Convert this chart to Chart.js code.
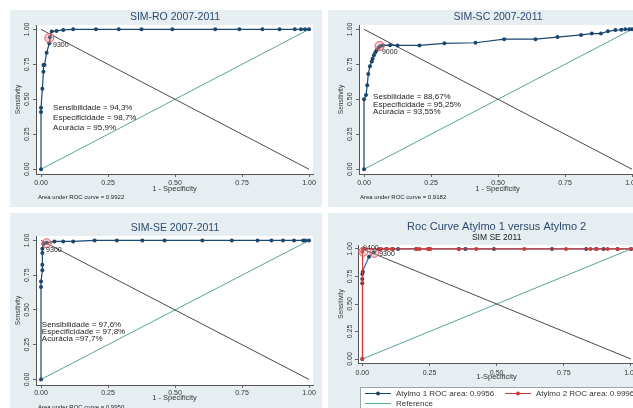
<!DOCTYPE html>
<html><head><meta charset="utf-8">
<script src="https://cdn.jsdelivr.net/npm/chart.js@4.4.0/dist/chart.umd.min.js"></script>
<style>
html,body{margin:0;padding:0;background:#fff;width:633px;height:408px;overflow:hidden;position:relative;}
.bg{position:absolute;background:#e7eef2;}
canvas{position:absolute;}
</style></head><body>
<div class="bg" style="left:10px;top:10px;width:312px;height:197px"></div>
<div class="bg" style="left:328px;top:10px;width:305px;height:197px"></div>
<div class="bg" style="left:10px;top:213px;width:312px;height:195px"></div>
<div class="bg" style="left:328px;top:213px;width:305px;height:195px"></div>
<canvas id="c1" width="312" height="200" style="left:10px;top:10px"></canvas>
<canvas id="c2" width="312" height="200" style="left:333px;top:10px"></canvas>
<canvas id="c3" width="312" height="187" style="left:10px;top:221px"></canvas>
<canvas id="c4" width="320" height="187" style="left:333px;top:221px"></canvas>
<script>
// ---- data ----
const tickValues = [0, 0.25, 0.5, 0.75, 1];
const tickLabels = ['0.00', '0.25', '0.50', '0.75', '1.00'];
const refX = [0, 1], refY = [0, 1];
const diagX = [0, 1], diagY = [1, 0];

const roX = [0, 0, 0, 0.005, 0.009, 0.009, 0.013, 0.021, 0.031, 0.033, 0.04, 0.058, 0.083, 0.12, 0.205, 0.29, 0.375, 0.49, 0.65, 0.74, 0.826, 0.89, 0.947, 0.97, 0.985, 1.0];
const roY = [0, 0.41, 0.44, 0.575, 0.697, 0.745, 0.745, 0.833, 0.90, 0.944, 0.984, 0.989, 0.996, 1, 1, 1, 1, 1, 1, 1, 1, 1, 1, 1, 1, 1];
const roCutX = [0.031], roCutY = [0.938];
const roStats = ['Sensibilidade = 94,3%', 'Especificidade = 98,7%', 'Acurácia = 95,9%'];

const scX = [0, 0, 0.0075, 0.012, 0.016, 0.022, 0.029, 0.032, 0.037, 0.042, 0.047, 0.054, 0.06, 0.07, 0.097, 0.125, 0.207, 0.30, 0.416, 0.523, 0.64, 0.722, 0.81, 0.85, 0.884, 0.91, 0.938, 0.96, 0.975, 0.99, 1.0];
const scY = [0, 0.50, 0.53, 0.60, 0.68, 0.736, 0.77, 0.79, 0.815, 0.835, 0.85, 0.868, 0.88, 0.885, 0.887, 0.885, 0.885, 0.90, 0.904, 0.93, 0.93, 0.945, 0.96, 0.97, 0.97, 0.986, 0.995, 0.997, 1, 1, 1];
const scCutX = [0.058], scCutY = [0.881];
const scStats = ['Sesbilidade = 88,67%', 'Especificidade = 95,25%', 'Acurácia = 93,55%'];

const seX = [0, 0, 0, 0.005, 0.005, 0.005, 0.005, 0.009, 0.021, 0.05, 0.083, 0.12, 0.2, 0.283, 0.378, 0.461, 0.602, 0.712, 0.808, 0.86, 0.903, 0.944, 0.978, 0.986, 1.0];
const seY = [0, 0.665, 0.705, 0.785, 0.825, 0.91, 0.94, 0.975, 0.983, 0.993, 0.993, 0.993, 1, 1, 1, 1, 1, 1, 1, 1, 1, 1, 1, 1, 1];
const seCutX = [0.021], seCutY = [0.98];
const seStats = ['Sensibilidade = 97,6%', 'Especificidade = 97,8%', 'Acurácia =97,7%'];

const a1X = [0, 0, 0, 0, 0.002, 0.025, 0.043, 0.064, 0.089, 0.114, 0.133, 0.2, 0.25, 0.36, 0.384, 0.49, 0.706, 0.833, 0.87, 0.898, 0.95, 1.0];
const a1Y = [0, 0.688, 0.727, 0.773, 0.794, 0.93, 0.97, 0.997, 1, 1, 1, 1, 1, 1, 1, 1, 1, 1, 1, 1, 1, 1];
const a2X = [0, 0, 0.002, 0.07, 0.092, 0.11, 0.203, 0.213, 0.244, 0.253, 0.358, 0.424, 0.603, 0.758, 0.849, 0.872, 0.913, 0.95, 1.0];
const a2Y = [0, 0.975, 1, 1, 1, 1, 1, 1, 1, 1, 1, 1, 1, 1, 1, 1, 1, 1, 1];
const atCutX = [0.004, 0.045], atCutY = [0.975, 0.965];
const atLegend = ['Atylmo 1 ROC area: 0.9956', 'Atylmo 2 ROC area: 0.9996', 'Reference'];

// ---- styling ----
const FONT = '"Liberation Sans", Arial, sans-serif';
const NAVY = '#1a476f', TEAL = '#58a59a', DARK = '#4a4a4a', RED = '#d03a3a';
const pts = (xs, ys) => xs.map((v, i) => ({x: v, y: ys[i]}));

function axis(min, max, title, isY, size, tickPad, titlePad) {
  return {
    type: 'linear', min: min, max: max,
    afterBuildTicks: s => { s.ticks = tickValues.map(v => ({value: v})); },
    afterFit: s => {
      if (isY) { s.width = size; s.paddingTop = 0; s.paddingBottom = 0; }
      else { s.height = size; s.paddingLeft = 0; s.paddingRight = 0; }
    },
    grid: {display: true, drawOnChartArea: false, drawTicks: true, tickLength: 3, color: '#666', lineWidth: 1},
    border: {display: true, color: '#555', width: 1},
    ticks: {
      autoSkip: false, font: {family: FONT, size: 7}, color: '#333', padding: tickPad,
      minRotation: isY ? 90 : 0, maxRotation: isY ? 90 : 0, crossAlign: isY ? 'center' : 'near',
      callback: (v, i) => tickLabels[i]
    },
    title: {display: true, text: title, color: '#333',
      font: {family: FONT, size: isY ? 6.5 : 7.5, lineHeight: 1.2},
      padding: isY ? {top: titlePad, bottom: 0} : {top: 0, bottom: titlePad}}
  };
}

function makeAnnot(a) {
  return {
    id: 'annot',
    beforeDraw(chart) {
      const {ctx, chartArea: c} = chart;
      ctx.save(); ctx.fillStyle = '#ffffff';
      ctx.fillRect(c.left, c.top, c.right - c.left, c.bottom - c.top); ctx.restore();
    },
    afterDraw(chart) {
      const {ctx, scales: {x, y}} = chart;
      const cx = (x.getPixelForValue(0) + x.getPixelForValue(1)) / 2;
      ctx.save();
      ctx.textBaseline = 'middle';
      ctx.textAlign = 'center';
      ctx.fillStyle = '#2b4a6e';
      ctx.font = a.titleSize + 'px ' + FONT;
      ctx.fillText(a.title, cx, a.titleY);
      if (a.subtitle) {
        ctx.fillStyle = '#222'; ctx.font = '8.5px ' + FONT;
        ctx.fillText(a.subtitle, cx, a.subY);
      }
      ctx.textAlign = 'left';
      ctx.fillStyle = '#222';
      if (a.stats) {
        ctx.font = '8px ' + FONT;
        a.stats.forEach((t, i) => ctx.fillText(t, x.getPixelForValue(a.statsX), y.getPixelForValue(a.statsY[i])));
      }
      ctx.font = '7px ' + FONT;
      (a.cutLabels || []).forEach(l => ctx.fillText(l.t, x.getPixelForValue(l.x), y.getPixelForValue(l.y)));
      if (a.note) {
        ctx.font = '6px ' + FONT;
        ctx.fillText(a.note, a.noteX, a.noteY);
      }
      if (a.legend) {
        const L = a.legend;
        ctx.fillStyle = '#fff'; ctx.strokeStyle = '#9aa4ad'; ctx.lineWidth = 1;
        ctx.fillRect(L.x + 0.5, L.y + 0.5, 330, 40);
        ctx.strokeRect(L.x + 0.5, L.y + 0.5, 330, 40);
        const items = [
          {c: NAVY, dot: true, x: L.x + 5, y: L.y + 6.5, t: L.texts[0]},
          {c: RED, dot: true, x: L.x + 145, y: L.y + 6.5, t: L.texts[1]},
          {c: TEAL, dot: false, x: L.x + 5, y: L.y + 16.5, t: L.texts[2]}
        ];
        ctx.font = '8px ' + FONT;
        items.forEach(it => {
          ctx.strokeStyle = it.c; ctx.lineWidth = 1;
          ctx.beginPath(); ctx.moveTo(it.x, it.y); ctx.lineTo(it.x + 26, it.y); ctx.stroke();
          if (it.dot) { ctx.fillStyle = it.c; ctx.beginPath(); ctx.arc(it.x + 13, it.y, 2, 0, Math.PI * 2); ctx.fill(); }
          ctx.fillStyle = '#333'; ctx.fillText(it.t, it.x + 31, it.y);
        });
      }
      ctx.restore();
    }
  };
}

function refSets() {
  return [
    {data: pts(refX, refY), showLine: true, borderColor: TEAL, borderWidth: 1, pointRadius: 0, order: 5},
    {data: pts(diagX, diagY), showLine: true, borderColor: DARK, borderWidth: 1, pointRadius: 0, order: 4}
  ];
}
function cutSet(xs, ys) {
  return {data: pts(xs, ys), showLine: false, pointRadius: 4.5, pointBorderWidth: 1,
    pointBorderColor: '#e25b5b', pointBackgroundColor: 'rgba(235,130,130,0.35)', order: 0};
}
function rocSet(xs, ys, col, lineCol, ord) {
  return {data: pts(xs, ys), showLine: true, borderColor: lineCol || col, borderWidth: 1.2,
    pointRadius: 2, pointBackgroundColor: col, pointBorderColor: col, pointBorderWidth: 0, order: ord || 1};
}

function build(id, o) {
  new Chart(document.getElementById(id), {
    type: 'scatter',
    data: {datasets: o.datasets},
    options: {
      responsive: false, animation: false, devicePixelRatio: 1,
      layout: {padding: o.pad},
      plugins: {legend: {display: false}, tooltip: {enabled: false}, title: {display: false}},
      scales: {
        x: axis(o.xr[0], o.xr[1], o.xTitle, false, o.xH, o.xTickPad, o.xTitlePad),
        y: axis(o.yr[0], o.yr[1], 'Sensitivity', true, o.yW, o.yTickPad, 4.1)
      }
    },
    plugins: [makeAnnot(o.annot)]
  });
}

const xr1 = [-0.0187, 1.0149];

build('c1', {
  datasets: [cutSet(roCutX, roCutY), rocSet(roX, roY, NAVY)].concat(refSets()),
  pad: {left: 0, top: 15, right: 9, bottom: 0}, xr: xr1, yr: [-0.034, 1.031],
  xTitle: '1 - Specificity', xH: 36, xTickPad: 1.5, xTitlePad: 16.8, yW: 26, yTickPad: -1,
  annot: {title: 'SIM-RO 2007-2011', titleSize: 10.5, titleY: 7.5, stats: roStats, statsX: 0.045, statsY: [0.437, 0.365, 0.296],
    cutLabels: [{t: '9300', x: 0.045, y: 0.885}], note: 'Area under ROC curve = 0.9922', noteX: 28, noteY: 187.5}
});

build('c2', {
  datasets: [cutSet(scCutX, scCutY), rocSet(scX, scY, NAVY)].concat(refSets()),
  pad: {left: 0, top: 15, right: 9, bottom: 0}, xr: xr1, yr: [-0.034, 1.031],
  xTitle: '1 - Specificity', xH: 36, xTickPad: 1.5, xTitlePad: 16.8, yW: 26, yTickPad: -1,
  annot: {title: 'SIM-SC 2007-2011', titleSize: 10.5, titleY: 7.3, stats: scStats, statsX: 0.034, statsY: [0.516, 0.464, 0.41],
    cutLabels: [{t: '9000', x: 0.067, y: 0.84}], note: 'Area under ROC curve = 0.9182', noteX: 27, noteY: 187.5}
});

build('c3', {
  datasets: [cutSet(seCutX, seCutY), rocSet(seX, seY, NAVY)].concat(refSets()),
  pad: {left: 0, top: 15, right: 9, bottom: 0}, xr: xr1, yr: [-0.04, 1.032],
  xTitle: '1 - Specificity', xH: 23, xTickPad: 0.5, xTitlePad: 5.5, yW: 26, yTickPad: -1,
  annot: {title: 'SIM-SE 2007-2011', titleSize: 10.5, titleY: 7.3, stats: seStats, statsX: 0.003, statsY: [0.392, 0.342, 0.291],
    cutLabels: [{t: '9300', x: 0.019, y: 0.932}], note: 'Area under ROC curve = 0.9950', noteX: 28, noteY: 186}
});

build('c4', {
  datasets: [cutSet(atCutX, atCutY), rocSet(a2X, a2Y, RED, RED, 1), rocSet(a1X, a1Y, NAVY, '#3d6fa6', 2)].concat(refSets()),
  pad: {left: 0, top: 24, right: 18, bottom: 0}, xr: [-0.016, 1.0149], yr: [-0.036, 1.036],
  xTitle: '1-Specificity', xH: 45, xTickPad: 2.8, xTitlePad: 26.5, yW: 25, yTickPad: -1.8,
  annot: {title: 'Roc Curve Atylmo 1 versus Atylmo 2', titleSize: 11, titleY: 5.8, subtitle: 'SIM SE 2011', subY: 16.7,
    cutLabels: [{t: '9400', x: 0.003, y: 1.01}, {t: '9300', x: 0.063, y: 0.955}],
    legend: {x: 27, y: 166, texts: atLegend}}
});
</script>
</body></html>
